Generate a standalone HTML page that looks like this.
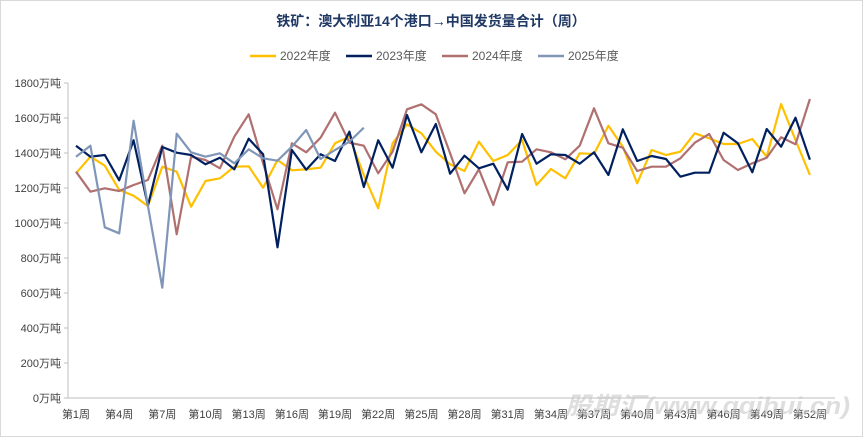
<!DOCTYPE html>
<html><head><meta charset="utf-8"><style>
body{margin:0;background:#fff;}
svg{display:block;font-family:"Liberation Sans","Noto Sans CJK SC",sans-serif;}
</style></head><body>
<svg id="c" width="863" height="437" viewBox="0 0 863 437">
<rect x="0.5" y="0.5" width="862" height="436" fill="#fff" stroke="#d9d9d9"/>
<text x="431" y="26" text-anchor="middle" font-size="14" font-weight="bold" fill="#1f3864">铁矿：澳大利亚14个港口→中国发货量合计（周）</text>
<g font-size="12" fill="#595959">
<line x1="250" y1="56" x2="276" y2="56" stroke="#ffc000" stroke-width="2.5"/><text x="280" y="60">2022年度</text>
<line x1="346" y1="56" x2="372" y2="56" stroke="#002060" stroke-width="2.5"/><text x="376" y="60">2023年度</text>
<line x1="442" y1="56" x2="468" y2="56" stroke="#b07070" stroke-width="2.5"/><text x="472" y="60">2024年度</text>
<line x1="538" y1="56" x2="564" y2="56" stroke="#8096b8" stroke-width="2.5"/><text x="568" y="60">2025年度</text>
</g>
<g id="ax"></g>
<g id="ser" fill="none" stroke-width="2.2" stroke-linejoin="round"></g>
<text x="565" y="414" font-size="24" font-weight="bold" font-style="italic" fill="#c8c8c8" fill-opacity="0.6" textLength="285" lengthAdjust="spacingAndGlyphs">股期汇(www.qqihui.cn)</text>
</svg>
<script>
var ax=document.getElementById('ax'),s='';
s+='<line x1="68" y1="83" x2="68" y2="398" stroke="#bfbfbf"/><line x1="68" y1="398" x2="835" y2="398" stroke="#bfbfbf"/>';
for(var i=0;i<=9;i++){var y=398-i*35;s+='<line x1="64" y1="'+y+'" x2="68" y2="'+y+'" stroke="#bfbfbf"/><text x="61" y="'+(y+4)+'" text-anchor="end" font-size="11" fill="#404040">'+(i*200)+'万吨</text>';}
for(var w=1;w<=52;w+=3){var x=76+(w-1)*14.39;s+='<text x="'+x+'" y="418" text-anchor="middle" font-size="11" fill="#404040">第'+w+'周</text>';}
ax.innerHTML=s;
var d={
'#ffc000':[295,245,272,345,362,393,275,290,395,318,310,275,274,338,255,286,283,278,205,185,300,400,205,148,175,230,268,288,200,258,240,195,330,282,310,235,237,152,215,325,225,240,230,175,190,207,207,192,245,87,195,300],
'#b07070':[290,350,340,348,330,315,212,478,245,255,280,185,118,265,403,205,232,188,113,203,212,295,230,103,88,118,235,355,283,390,262,260,223,232,253,212,100,205,218,288,275,275,250,203,177,255,285,265,248,187,208,72],
'#002060':[212,245,240,316,196,392,216,233,240,268,248,283,191,238,517,225,284,238,258,170,336,196,278,120,232,147,296,242,280,266,344,177,266,238,240,266,232,300,163,258,243,252,305,293,293,173,205,292,162,215,128,254],
'#8096b8':[245,212,457,475,137,392,638,176,232,245,235,265,223,250,257,215,165,252,225,200,158]};
var g='';for(var c in d){var p=d[c].map(function(z,i){return (76+i*14.39).toFixed(1)+','+(75+z/3).toFixed(1)}).join(' ');g+='<polyline points="'+p+'" stroke="'+c+'"/>';}
document.getElementById('ser').innerHTML=g;
</script>
</body></html>
